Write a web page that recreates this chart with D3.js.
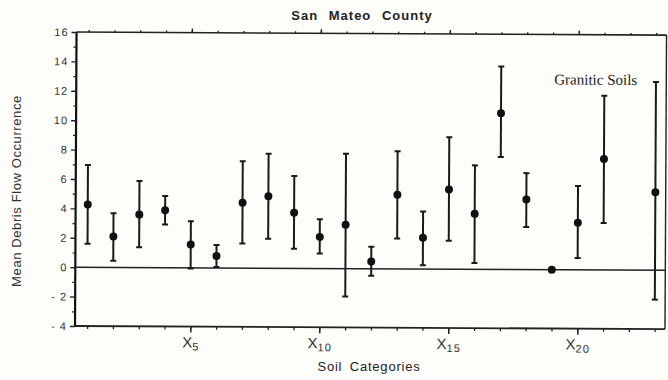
<!DOCTYPE html>
<html lang="en">
	<head>
		<meta charset="utf-8">
		<title>San Mateo County - debris flow occurrence</title>
		<style type="text/css">
			body { margin: 0; background: #fdfdf9; }
			svg { display: block; }
			.tick text { font-family: "Liberation Sans", Arial, sans-serif; fill: #333; }
		</style>
	</head>
	<body>
		<script src="https://cdn.jsdelivr.net/npm/d3@7"></script>
		<script type="text/javascript">
			//Data
			var categories = [1, 2, 3, 4, 5, 6, 7, 8, 9, 10, 11, 12, 13, 14, 15, 16, 17, 18, 19, 20, 21, 23];
			var means = [4.27, 2.1, 3.6, 3.91, 1.58, 0.81, 4.45, 4.9, 3.78, 2.15, 2.98, 0.5, 5.04, 2.13, 5.42, 3.77, 10.63, 4.77, 0, 3.2, 7.55, 5.3];
			var upper = [6.96, 3.68, 5.88, 4.88, 3.17, 1.56, 7.27, 7.78, 6.28, 3.35, 7.82, 1.49, 8.0, 3.91, 8.97, 7.07, 13.8, 6.56, null, 5.7, 11.85, 12.8];
			var lower = [1.6, 0.45, 1.38, 2.94, -0.05, 0.07, 1.67, 2.01, 1.34, 1.02, -1.9, -0.47, 2.06, 0.25, 1.93, 0.43, 7.65, 2.9, null, 0.8, 3.2, -2.0];
			var yTicks = [-4, -2, 0, 2, 4, 6, 8, 10, 12, 14, 16];
			var xLabelTicks = [5, 10, 15, 20];

			//Width and height (plot box edges)
			var w = 668;
			var h = 380;
			var pLeft = 75, pRight = 665, pTop = 32, pBottom = 326;

			var svg = d3.select("body")
						.append("svg")
						.attr("width", w)
						.attr("height", h);

			//the scan is a little tilted
			var g = svg.append("g")
						.attr("transform", "rotate(0.3," + pLeft + "," + pBottom + ")");

			var xScale = d3.scaleLinear()
							.domain([0.53, 23.4])
							.range([pLeft, pRight]);
			var yScale = d3.scaleLinear()
							.domain([-4, 16])
							.range([pBottom, pTop]);

			//Frame
			g.append("line").attr("x1", pLeft).attr("x2", pRight).attr("y1", pTop).attr("y2", pTop)
				.attr("stroke", "#222").attr("stroke-width", 1.6);
			g.append("line").attr("x1", pLeft).attr("x2", pRight).attr("y1", pBottom).attr("y2", pBottom)
				.attr("stroke", "#222").attr("stroke-width", 1.8);
			g.append("line").attr("x1", pRight).attr("x2", pRight).attr("y1", pTop).attr("y2", pBottom)
				.attr("stroke", "#222").attr("stroke-width", 1.4);
			g.append("line").attr("x1", pLeft).attr("x2", pLeft).attr("y1", pTop).attr("y2", pBottom)
				.attr("stroke", "#111").attr("stroke-width", 2.2);

			//Zero line
			g.append("line")
				.attr("x1", pLeft).attr("x2", pRight)
				.attr("y1", yScale(0)).attr("y2", yScale(0))
				.attr("stroke", "#222").attr("stroke-width", 1.5);

			//Y axis, major ticks with labels
			var yAxis = d3.axisLeft(yScale)
							.tickValues(yTicks)
							.tickSize(5)
							.tickPadding(3)
							.tickFormat(function(d) { return d < 0 ? "- " + Math.abs(d) : d; });
			var yG = g.append("g").attr("transform", "translate(" + pLeft + ",0)").call(yAxis);
			yG.select(".domain").remove();
			yG.selectAll(".tick line").attr("stroke", "#222").attr("stroke-width", 1.4);
			yG.selectAll(".tick text").attr("font-size", "11px").attr("letter-spacing", "1px");

			//Y minor ticks
			var yMinor = d3.axisLeft(yScale)
							.tickValues(d3.range(-3, 16, 2))
							.tickSize(3)
							.tickFormat("");
			var yMg = g.append("g").attr("transform", "translate(" + pLeft + ",0)").call(yMinor);
			yMg.select(".domain").remove();
			yMg.selectAll(".tick line").attr("stroke", "#222").attr("stroke-width", 1.2);

			//X axis bottom: small ticks every category, big ones with labels
			var xMinor = d3.axisBottom(xScale).tickValues(d3.range(1, 24)).tickSize(3).tickFormat("");
			var xMg = g.append("g").attr("transform", "translate(0," + pBottom + ")").call(xMinor);
			xMg.select(".domain").remove();
			xMg.selectAll(".tick line").attr("stroke", "#222").attr("stroke-width", 1.3);

			var xAxis = d3.axisBottom(xScale).tickValues(xLabelTicks).tickSize(6).tickFormat("");
			var xG = g.append("g").attr("transform", "translate(0," + pBottom + ")").call(xAxis);
			xG.select(".domain").remove();
			xG.selectAll(".tick line").attr("stroke", "#222").attr("stroke-width", 1.5);
			var lab = xG.selectAll(".tick").append("text")
						.attr("y", 21)
						.attr("text-anchor", "middle")
						.attr("fill", "#222")
						.attr("font-size", "15px");
			lab.append("tspan").text("X");
			lab.append("tspan")
				.attr("font-size", "11px")
				.attr("dy", 3)
				.attr("letter-spacing", "1px")
				.text(function(d) { return d; });

			//X axis top
			var xTop = d3.axisTop(xScale).tickValues(d3.range(1, 24)).tickSize(2).tickFormat("");
			var xTg = g.append("g").attr("transform", "translate(0," + pTop + ")").call(xTop);
			xTg.select(".domain").remove();
			xTg.selectAll(".tick line").attr("stroke", "#222").attr("stroke-width", 1.3);
			var xTopMajor = d3.axisTop(xScale).tickValues(xLabelTicks).tickSize(4).tickFormat("");
			var xTmg = g.append("g").attr("transform", "translate(0," + pTop + ")").call(xTopMajor);
			xTmg.select(".domain").remove();
			xTmg.selectAll(".tick line").attr("stroke", "#222").attr("stroke-width", 1.5);

			//Error bars
			var rows = categories.map(function(c, i) {
				return { cat: c, mean: means[i], hi: upper[i], lo: lower[i] };
			});
			var bars = rows.filter(function(d) { return d.hi !== null; });

			g.selectAll("line.err")
				.data(bars)
				.enter()
				.append("line")
				.attr("class", "err")
				.attr("x1", function(d) { return xScale(d.cat); })
				.attr("x2", function(d) { return xScale(d.cat); })
				.attr("y1", function(d) { return yScale(d.hi); })
				.attr("y2", function(d) { return yScale(d.lo); })
				.attr("stroke", "#1a1a1a")
				.attr("stroke-width", 2);

			["hi", "lo"].forEach(function(k) {
				g.selectAll("line.cap-" + k)
					.data(bars)
					.enter()
					.append("line")
					.attr("class", "cap-" + k)
					.attr("x1", function(d) { return xScale(d.cat) - 3; })
					.attr("x2", function(d) { return xScale(d.cat) + 3; })
					.attr("y1", function(d) { return yScale(d[k]); })
					.attr("y2", function(d) { return yScale(d[k]); })
					.attr("stroke", "#1a1a1a")
					.attr("stroke-width", 2);
			});

			g.selectAll("circle")
				.data(rows)
				.enter()
				.append("circle")
				.attr("cx", function(d) { return xScale(d.cat); })
				.attr("cy", function(d) { return yScale(d.mean); })
				.attr("r", 4)
				.attr("fill", "#111");

			//Texts
			g.append("text")
				.attr("x", 553).attr("y", 82)
				.attr("font-family", "Liberation Serif, Times New Roman, serif")
				.attr("font-size", "15px")
				.attr("fill", "#222")
				.text("Granitic Soils");

			svg.append("text")
				.attr("x", 362).attr("y", 20)
				.attr("text-anchor", "middle")
				.attr("font-family", "Liberation Sans, Arial, sans-serif")
				.attr("font-size", "13px")
				.attr("font-weight", "bold")
				.attr("letter-spacing", "1px")
				.attr("word-spacing", "6px")
				.attr("fill", "#222")
				.text("San Mateo County");

			svg.append("text")
				.attr("x", 369).attr("y", 371)
				.attr("text-anchor", "middle")
				.attr("font-family", "Liberation Sans, Arial, sans-serif")
				.attr("font-size", "13px")
				.attr("letter-spacing", "0.8px")
				.attr("word-spacing", "3px")
				.attr("fill", "#222")
				.text("Soil Categories");

			svg.append("text")
				.attr("transform", "translate(21,191) rotate(-90)")
				.attr("text-anchor", "middle")
				.attr("font-family", "Liberation Sans, Arial, sans-serif")
				.attr("font-size", "13px")
				.attr("letter-spacing", "0.6px")
				.attr("fill", "#333")
				.text("Mean Debris Flow Occurrence");
		</script>
	</body>
</html>
